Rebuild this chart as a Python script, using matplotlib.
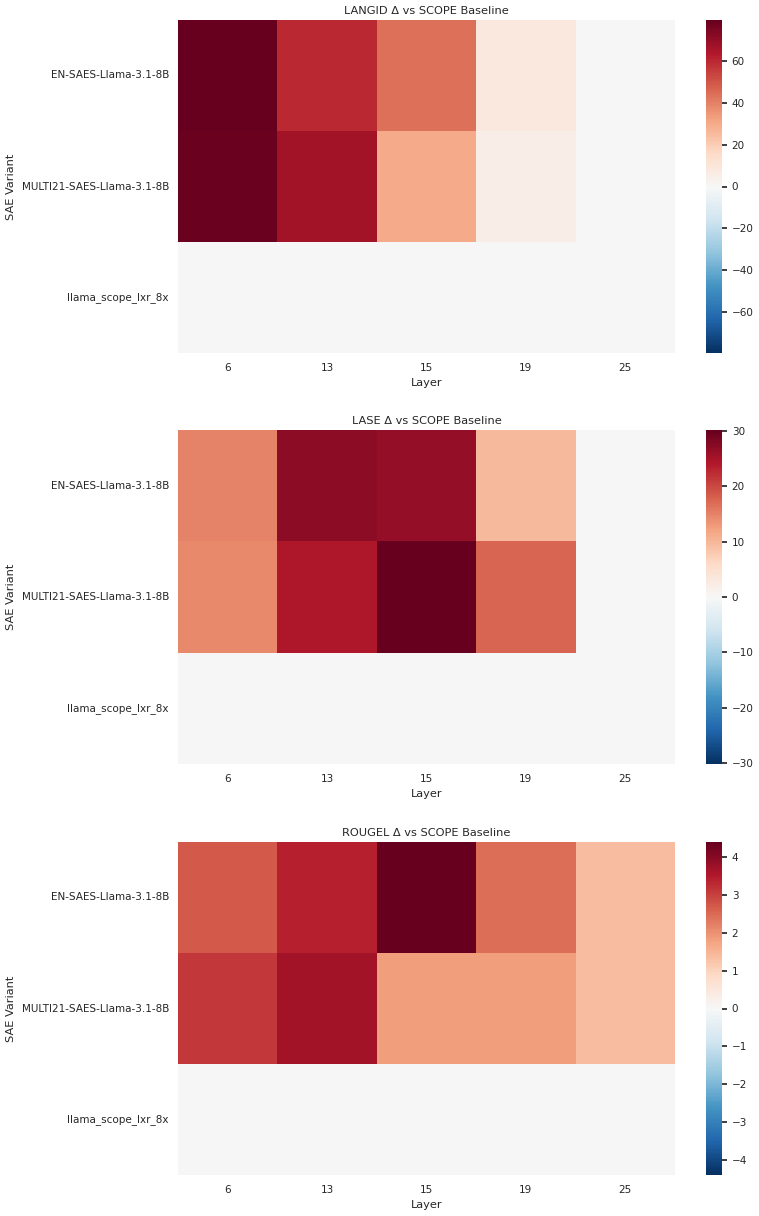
import matplotlib
matplotlib.use("Agg")
import matplotlib.pyplot as plt
import seaborn as sns
import numpy as np
import pandas as pd

sns.set_theme(style="white")
plt.rcParams['font.family'] = ['DejaVu Sans']

variants = ["EN-SAES-Llama-3.1-8B", "MULTI21-SAES-Llama-3.1-8B", "llama_scope_lxr_8x"]
layers = [6, 13, 15, 19, 25]

langid = [[79.8, 60.0, 44.0, 8.5, 0.0],
          [79.0, 67.0, 30.0, 5.0, 0.0],
          [0.0, 0.0, 0.0, 0.0, 0.0]]
lase = [[15.0, 27.0, 26.5, 9.8, 0.0],
        [14.5, 24.5, 30.2, 17.5, 0.0],
        [0.0, 0.0, 0.0, 0.0, 0.0]]
rougel = [[2.7, 3.4, 4.39, 2.45, 1.35],
          [3.12, 3.7, 1.85, 1.85, 1.35],
          [0.0, 0.0, 0.0, 0.0, 0.0]]

metrics = [("LANGID", langid), ("LASE", lase), ("ROUGEL", rougel)]

W, H = 759, 1216
fig = plt.figure(figsize=(W / 100, H / 100), dpi=100)

# pixel boxes (top, bottom) of each heatmap
rows = [(20, 353), (430, 764), (842, 1175)]
x0, x1 = 178, 675
cx0, cx1 = 706, 722

for (name, vals), (top, bot) in zip(metrics, rows):
    ax = fig.add_axes([x0 / W, 1 - bot / H, (x1 - x0) / W, (bot - top) / H])
    cax = fig.add_axes([cx0 / W, 1 - bot / H, (cx1 - cx0) / W, (bot - top) / H])
    df = pd.DataFrame(vals, index=variants, columns=layers)
    vmax = np.abs(df.values).max()
    sns.heatmap(df, ax=ax, cbar_ax=cax, cmap="RdBu_r", center=0,
                vmin=-vmax, vmax=vmax)
    ax.set_title(f"{name} Δ vs SCOPE Baseline", fontsize=8.2, color="#262626", pad=4)
    ax.set_xlabel("Layer", fontsize=8.2, color="#262626", labelpad=3.5)
    ax.set_ylabel("SAE Variant", fontsize=8.2, color="#262626", labelpad=4)
    ax.tick_params(axis="x", labelsize=7.5, colors="#262626", length=3, pad=4.5,
                   color="#dddddd")
    ax.tick_params(axis="y", labelsize=7.5, colors="#262626", length=0, pad=6.5,
                   rotation=0)
    cax.tick_params(labelsize=7.5, colors="#262626", length=3.5, color="#262626")

fig.savefig("out.png", dpi=100)
